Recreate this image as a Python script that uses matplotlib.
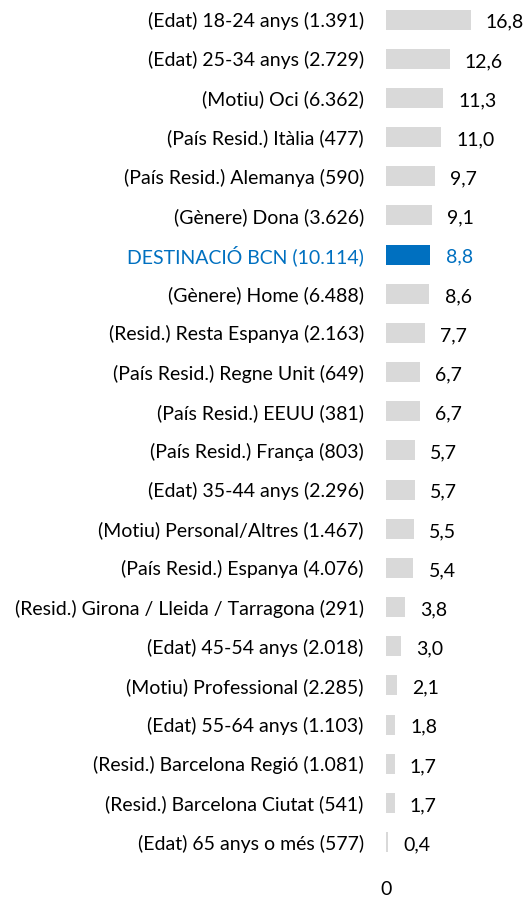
import matplotlib
matplotlib.use("Agg")
import matplotlib.pyplot as plt

categories = [
    "(Edat) 18-24 anys (1.391)",
    "(Edat) 25-34 anys (2.729)",
    "(Motiu) Oci (6.362)",
    "(País Resid.) Itàlia (477)",
    "(País Resid.) Alemanya (590)",
    "(Gènere) Dona (3.626)",
    "DESTINACIÓ BCN (10.114)",
    "(Gènere) Home (6.488)",
    "(Resid.) Resta Espanya (2.163)",
    "(País Resid.) Regne Unit (649)",
    "(País Resid.) EEUU (381)",
    "(País Resid.) França (803)",
    "(Edat) 35-44 anys (2.296)",
    "(Motiu) Personal/Altres (1.467)",
    "(País Resid.) Espanya (4.076)",
    "(Resid.) Girona / Lleida / Tarragona (291)",
    "(Edat) 45-54 anys (2.018)",
    "(Motiu) Professional (2.285)",
    "(Edat) 55-64 anys (1.103)",
    "(Resid.) Barcelona Regió (1.081)",
    "(Resid.) Barcelona Ciutat (541)",
    "(Edat) 65 anys o més (577)",
]
values = [16.8, 12.6, 11.3, 11.0, 9.7, 9.1, 8.8, 8.6, 7.7, 6.7, 6.7, 5.7, 5.7,
          5.5, 5.4, 3.8, 3.0, 2.1, 1.8, 1.7, 1.7, 0.4]
highlight = "DESTINACIÓ BCN (10.114)"

plt.rcParams['font.family'] = ['Lato', 'DejaVu Sans']

W, H = 526, 899
fig = plt.figure(figsize=(W / 100, H / 100), dpi=100)
ax = fig.add_axes([386 / W, 1 - 861.6 / H, 140 / W, 861.6 / H])

gray = "#d9d9d9"
blue = "#0070c0"
fs = 14
colors = [blue if c == highlight else gray for c in categories]
ypos = list(range(len(categories)))
ax.barh(ypos, values, height=0.51, color=colors)
ax.set_ylim(len(categories) - 0.5, -0.5)
ax.set_xlim(0, 140 / 5.04)

for y, v, c in zip(ypos, values, categories):
    col = blue if c == highlight else "#000000"
    ax.annotate(f"{v:.1f}".replace(".", ","), (v, y), xytext=(11, -2),
                textcoords="offset points", va="center", ha="left",
                fontsize=fs, color=col)

ax.set_yticks(ypos)
ax.set_yticklabels(categories, fontsize=fs)
for lbl, c in zip(ax.get_yticklabels(), categories):
    if c == highlight:
        lbl.set_color(blue)
ax.tick_params(axis='y', length=0, pad=16)
ax.set_xticks([0])
ax.set_xticklabels(["0"], fontsize=fs)
ax.tick_params(axis='x', length=0, pad=14)
for s in ax.spines.values():
    s.set_visible(False)

fig.savefig("out.png", dpi=100)
